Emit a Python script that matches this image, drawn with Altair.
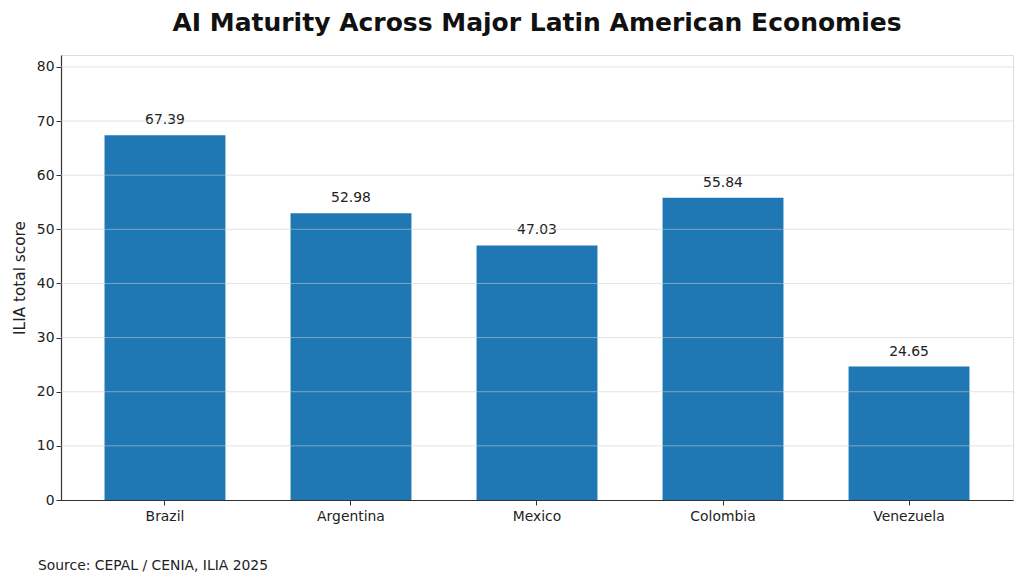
import altair as alt
import pandas as pd

countries = ["Brazil", "Argentina", "Mexico", "Colombia", "Venezuela"]
scores = [67.39, 52.98, 47.03, 55.84, 24.65]
grid_values = [10, 20, 30, 40, 50, 60, 70, 80]
y_max = 82.2

bars_df = pd.DataFrame({"country": countries, "score": scores})
grid_df = pd.DataFrame({"v": grid_values})

FONT = "DejaVu Sans"
FS = 13.9

x_enc = alt.X(
    "country:N",
    sort=countries,
    title=None,
    scale=alt.Scale(paddingInner=0.35, paddingOuter=0.234),
    axis=alt.Axis(labelAngle=0, labelFontSize=FS, labelColor="#222222",
                  labelPadding=4, tickSize=5, tickColor="#333333",
                  domainColor="#333333", domainWidth=1.2, labelFont=FONT),
)
y_scale = alt.Scale(domain=[0, y_max], nice=False)

bars = alt.Chart(bars_df).mark_bar(color="#1f77b4").encode(
    x=x_enc,
    y=alt.Y(
        "score:Q",
        scale=y_scale,
        title="ILIA total score",
        axis=alt.Axis(values=[0] + grid_values, grid=False, labelFontSize=FS,
                      labelColor="#222222", tickSize=5, tickColor="#333333",
                      domainColor="#333333", domainWidth=1.2, labelFont=FONT,
                      titleFont=FONT, titleFontSize=15.3, titleFontWeight="normal",
                      titleColor="#222222", titlePadding=9),
    ),
)

labels = alt.Chart(bars_df).mark_text(
    baseline="bottom", dy=-8, fontSize=FS, font=FONT, color="#222222"
).encode(
    x=alt.X("country:N", sort=countries),
    y=alt.Y("score:Q", scale=y_scale),
    text=alt.Text("score:Q", format=".2f"),
)

grid = alt.Chart(grid_df).mark_rule(color="#cccccc", opacity=0.55, strokeWidth=1).encode(
    y=alt.Y("v:Q", scale=y_scale)
)

source = alt.Chart(pd.DataFrame({"t": ["Source: CEPAL / CENIA, ILIA 2025"]})).mark_text(
    align="left", baseline="middle", fontSize=FS, font=FONT, color="#222222"
).encode(x=alt.value(-23), y=alt.value(511), text="t:N")

chart = alt.layer(bars, labels, grid, source).properties(
    width=952,
    height=445,
    padding={"left": 61, "top": 55, "right": 11, "bottom": 85},
    autosize=alt.AutoSizeParams(type="none"),
    title=alt.Title(
        "AI Maturity Across Major Latin American Economies",
        font=FONT, fontSize=25, fontWeight="bold", color="#111111",
        anchor="middle", offset=19,
    ),
).configure_view(stroke=None).configure(background="white")

chart.save("out.html", embed_options={"renderer": "svg", "actions": False})
